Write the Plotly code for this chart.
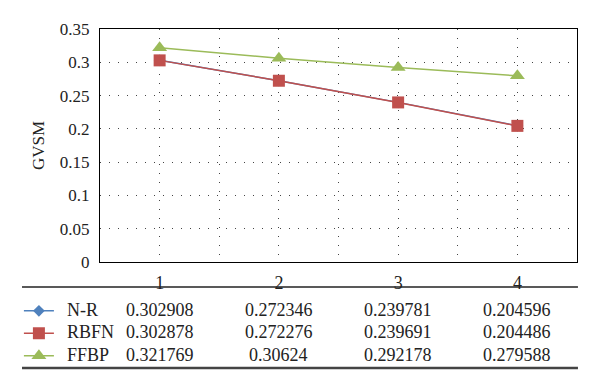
import plotly.graph_objects as go

categories = [1, 2, 3, 4]
series_names = ["N-R", "RBFN", "FFBP"]
nr_values = [0.302908, 0.272346, 0.239781, 0.204596]
rbfn_values = [0.302878, 0.272276, 0.239691, 0.204486]
ffbp_values = [0.321769, 0.30624, 0.292178, 0.279588]
y_ticks = [0, 0.05, 0.1, 0.15, 0.2, 0.25, 0.3, 0.35]
y_tick_text = ["0", "0.05", "0.1", "0.15", "0.2", "0.25", "0.3", "0.35"]

colors = ["#4F81BD", "#C0504D", "#9BBB59"]
symbols = ["diamond", "square", "triangle-up"]
marker_sizes = [9, 12, 13]
all_values = [nr_values, rbfn_values, ffbp_values]

FONT = "Liberation Serif"

fig = go.Figure()
for name, vals, col, sym, ms in zip(series_names, all_values, colors, symbols, marker_sizes):
    fig.add_trace(go.Scatter(
        x=categories, y=vals, name="", mode="lines+markers",
        hovertemplate=name + ": %{y}<extra></extra>",
        line=dict(color=col, width=1.5),
        marker=dict(symbol=sym, size=ms, color=col),
    ))

# grid at half-category steps, labels at integer categories
xt = [0.5 + 0.5 * i for i in range(9)]
xtext = [str(int(v)) if float(v).is_integer() else "" for v in xt]

# page body has an 8px margin, so the figure is 8px smaller each way
fig.update_layout(
    width=592, height=382,
    margin=dict(l=92, r=23, t=21, b=128, autoexpand=False),
    paper_bgcolor="white", plot_bgcolor="white",
    font=dict(family=FONT, size=17, color="#222"),
    showlegend=True,
    legend=dict(
        x=-0.17, y=-0.14, xanchor="left", yanchor="top",
        font=dict(family=FONT, size=15, color="#222"),
        bgcolor="rgba(0,0,0,0)", itemwidth=30, tracegroupgap=0,
    ),
    xaxis=dict(
        range=[0.5, 4.5], tickvals=xt, ticktext=xtext,
        showgrid=True, gridcolor="#444", griddash="1px,8px", gridwidth=1,
        showline=True, linecolor="black", linewidth=1, mirror=True,
        ticks="", zeroline=False, ticklabelstandoff=4, automargin=False,
        tickfont=dict(family=FONT, size=18),
    ),
    yaxis=dict(
        range=[0, 0.35], tickvals=y_ticks, ticktext=y_tick_text,
        showgrid=True, gridcolor="#444", griddash="1px,8px", gridwidth=1,
        showline=True, linecolor="black", linewidth=1, mirror=True,
        ticks="", zeroline=False, automargin=False, ticklabelstandoff=6,
        title=dict(text="GVSM", font=dict(family=FONT, size=17), standoff=10),
        tickfont=dict(family=FONT, size=17),
    ),
)

# data table below the chart
row_y = [-0.206, -0.300, -0.399]
for name, vals, ry in zip(series_names, all_values, row_y):
    fig.add_annotation(x=-0.0734, y=ry, xref="paper", yref="paper", text=name,
                       showarrow=False, xanchor="left", yanchor="middle",
                       font=dict(family=FONT, size=18, color="#222"))
    for c, v in zip(categories, vals):
        fig.add_annotation(x=c, y=ry, xref="x", yref="paper", text=str(v),
                           showarrow=False, xanchor="center", yanchor="middle",
                           font=dict(family=FONT, size=18, color="#222"))

fig.add_shape(type="line", xref="paper", yref="paper", x0=-0.1635, x1=1.002,
              y0=-0.107, y1=-0.107, line=dict(color="#222", width=1.5))
fig.add_shape(type="line", xref="paper", yref="paper", x0=-0.1635, x1=1.002,
              y0=-0.455, y1=-0.455, line=dict(color="#444", width=2.5))

fig.write_html("out.html")
